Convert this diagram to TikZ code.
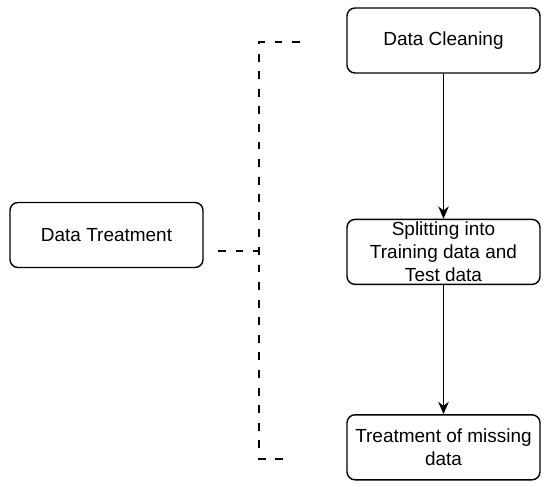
\documentclass[tikz,border=0pt]{standalone}
\usepackage{fontspec}
\setmainfont{Liberation Sans}
\usepackage{tikz}
\usetikzlibrary{arrows.meta,positioning}

\begin{document}
\begin{tikzpicture}[>={Stealth[length=7pt, width=6pt]}, node distance=2.9cm]
        \tikzset{stage/.style={rectangle, draw, rounded corners=0.16cm, align=center, minimum width=3.86cm, minimum height=1.3cm, inner sep=1pt, font=\fontsize{10.8}{13}\selectfont, line width=0.8pt}, bracket/.style={line width=1.6pt, dash pattern=on 4.5pt off 5.5pt}}
        \useasboundingbox (0,0) rectangle (11,-9.74);
        \node[stage] (clean) at (8.87,-0.81) {Data Cleaning};
        \node[stage, below=2.9cm of clean] (split) {Splitting into\\Training data and\\Test data};
        \node[stage, below=2.58cm of split] (missing) {Treatment of missing\\data};
        \node[stage] (treat) at (2.13,-4.7) {Data Treatment};
        \coordinate (btop) at (6.0,-0.84);
        \coordinate (bbot) at (5.84,-9.18);
        \coordinate (bmid) at (4.36,-5.02);
        \draw[->, line width=0.8pt] (clean) -- (split);
        \draw[->, line width=0.8pt] (split) -- (missing);
        \draw[bracket] (btop) -- (5.18,-0.84) -- (5.18,-9.18) -- (bbot);
        \draw[bracket] (bmid) -- (5.18,-5.02);
    \end{tikzpicture}
\end{document}
